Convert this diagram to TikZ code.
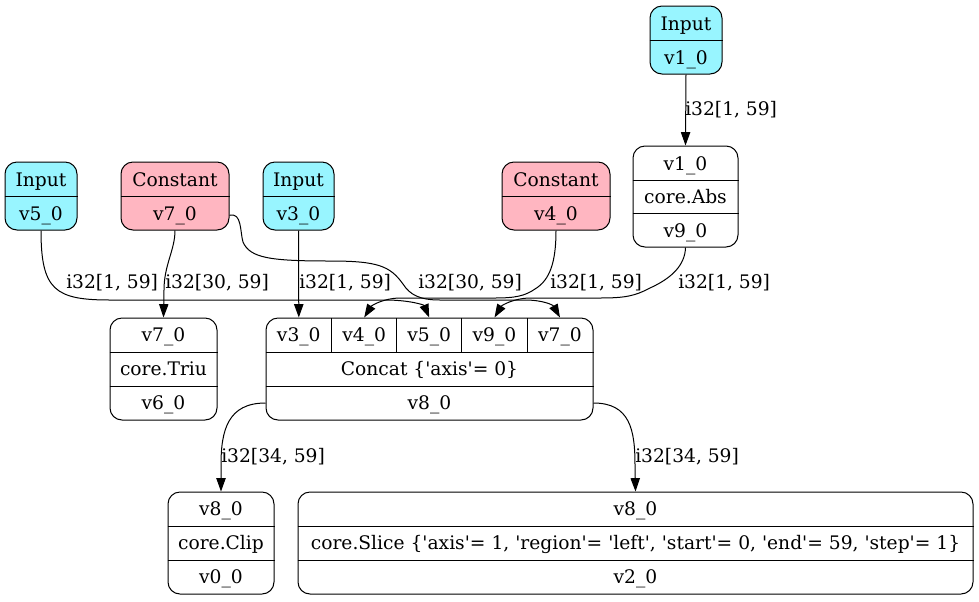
\documentclass[tikz,border=0pt]{standalone}
\usepackage{fontspec}
\setmainfont{DejaVu Serif}
\usetikzlibrary{arrows.meta}
\definecolor{inputcol}{HTML}{98F5FF}
\definecolor{constcol}{HTML}{FFB6C1}
\newcommand{\sq}{\textquotesingle}
\tikzset{
  rec/.style={draw, rounded corners=9pt, line width=0.75pt, inner sep=0pt},
  txt/.style={inner sep=0pt, anchor=base, font=\fontsize{14}{16}\selectfont},
  lbl/.style={inner sep=0pt, anchor=base west, font=\fontsize{14}{16}\selectfont},
  link/.style={line width=0.75pt, -{Triangle[length=10pt,width=7pt]}},
}
\begin{document}
\begin{tikzpicture}[x=0.75pt,y=0.75pt,yscale=-1,xscale=1]
\useasboundingbox (0,0) rectangle (979,601);

% Input v1_0
\node[rec, fill=inputcol, minimum width=54pt, minimum height=51pt] (in1) at (686,40) {};
\draw[line width=0.75pt] (in1.west) -- (in1.east);
\node[txt] (in1a) at (686,30) {Input};
\node[txt] (in1b) at (686,64) {v1\_0};

% Input v5_0
\node[rec, fill=inputcol, minimum width=54pt, minimum height=51pt] (in5) at (41,196) {};
\draw[line width=0.75pt] (in5.west) -- (in5.east);
\node[txt] (in5a) at (41,186) {Input};
\node[txt] (in5b) at (41,220) {v5\_0};

% Constant v7_0
\node[rec, fill=constcol, minimum width=81pt, minimum height=51pt] (c7) at (175,196) {};
\draw[line width=0.75pt] (c7.west) -- (c7.east);
\node[txt] (c7a) at (175,186) {Constant};
\node[txt] (c7b) at (175,220) {v7\_0};

% Input v3_0
\node[rec, fill=inputcol, minimum width=53.25pt, minimum height=51pt] (in3) at (298.5,196) {};
\draw[line width=0.75pt] (in3.west) -- (in3.east);
\node[txt] (in3a) at (298.5,186) {Input};
\node[txt] (in3b) at (298.5,220) {v3\_0};

% Constant v4_0
\node[rec, fill=constcol, minimum width=81pt, minimum height=51pt] (c4) at (556,196) {};
\draw[line width=0.75pt] (c4.west) -- (c4.east);
\node[txt] (c4a) at (556,186) {Constant};
\node[txt] (c4b) at (556,220) {v4\_0};

% core.Abs
\node[rec, minimum width=78.75pt, minimum height=75.75pt] (abs) at (685.5,196.5) {};
\draw[line width=0.75pt] (abs.west |- 0,180) -- (abs.east |- 0,180);
\draw[line width=0.75pt] (abs.west |- 0,213) -- (abs.east |- 0,213);
\node[txt] (absa) at (685.5,170) {v1\_0};
\node[txt] (absb) at (685.5,203) {core.Abs};
\node[txt] (absc) at (685.5,237) {v9\_0};

% core.Triu
\node[rec, minimum width=80.25pt, minimum height=76.5pt] (triu) at (163.5,369) {};
\draw[line width=0.75pt] (triu.west |- 0,352) -- (triu.east |- 0,352);
\draw[line width=0.75pt] (triu.west |- 0,386) -- (triu.east |- 0,386);
\node[txt] (triua) at (163.5,341) {v7\_0};
\node[txt] (triub) at (163.5,375) {core.Triu};
\node[txt] (triuc) at (163.5,409) {v6\_0};

% Concat
\node[rec, minimum width=245.25pt, minimum height=76.5pt] (cat) at (429.5,369) {};
\draw[line width=0.75pt] (cat.west |- 0,352) -- (cat.east |- 0,352);
\draw[line width=0.75pt] (cat.west |- 0,386) -- (cat.east |- 0,386);
\foreach \cx in {331.7,396.7,461.7,527.3}
  \draw[line width=0.75pt] (\cx,318) -- (\cx,352);
\node[txt] (cv3) at (298.8,341) {v3\_0};
\node[txt] (cv4) at (364.2,341) {v4\_0};
\node[txt] (cv5) at (429.2,341) {v5\_0};
\node[txt] (cv9) at (494.5,341) {v9\_0};
\node[txt] (cv7) at (560,341) {v7\_0};
\node[txt] (catb) at (429.5,375) {Concat \{\sq axis\sq= 0\}};
\node[txt] (catc) at (429.5,409) {v8\_0};

% core.Clip
\node[rec, minimum width=79.5pt, minimum height=76.5pt] (clip) at (221,543) {};
\draw[line width=0.75pt] (clip.west |- 0,526) -- (clip.east |- 0,526);
\draw[line width=0.75pt] (clip.west |- 0,560) -- (clip.east |- 0,560);
\node[txt] (clipa) at (221,515) {v8\_0};
\node[txt] (clipb) at (221,549) {core.Clip};
\node[txt] (clipc) at (221,583) {v0\_0};

% core.Slice
\node[rec, minimum width=506.25pt, minimum height=76.5pt] (slice) at (635.5,543) {};
\draw[line width=0.75pt] (slice.west |- 0,526) -- (slice.east |- 0,526);
\draw[line width=0.75pt] (slice.west |- 0,560) -- (slice.east |- 0,560);
\node[txt] (slicea) at (635.5,515) {v8\_0};
\node[txt] (sliceb) at (635.5,549) {core.Slice \{\sq axis\sq= 1, \sq region\sq= \sq left\sq, \sq start\sq= 0, \sq end\sq= 59, \sq step\sq= 1\}};
\node[txt] (slicec) at (635.5,583) {v2\_0};

% edges
\draw[link] (in1.south) -- (abs.north);
\draw[link] (in5.south) .. controls (41,290) and (55,300) .. (110,300) -- (385,300) .. controls (410,300) and (424,305) .. (cv5 |- cat.north);
\draw[link] (c7.south) .. controls (175,250) and (164,265) .. (164,290) -- (triu.north);
\draw[link] (c7.east |- c7b.center) .. controls (242,212) and (240,232) .. (243,242) .. controls (250,258) and (270,261) .. (330,261) .. controls (378,261) and (390,266) .. (403,284) .. controls (410,295) and (420,300) .. (440,300) -- (525,300) .. controls (543,300) and (553,305) .. (cv7 |- cat.north);
\draw[link] (in3.south) -- (cv3 |- cat.north);
\draw[link] (c4.south) .. controls (556,262) and (550,280) .. (535,289) .. controls (525,296) and (515,298) .. (495,298) -- (400,298) .. controls (385,298) and (372,305) .. (cv4 |- cat.north);
\draw[link] (abs.south) .. controls (685,265) and (672,278) .. (650,288) .. controls (635,296) and (625,298) .. (600,298) -- (530,298) .. controls (515,298) and (502,305) .. (cv9 |- cat.north);
\draw[link] (cat.west |- 0,403) .. controls (228,403) and (221,430) .. (221,465) -- (clip.north);
\draw[link] (cat.east |- 0,403) .. controls (630,403) and (635,430) .. (635,465) -- (slice.north);

% edge labels
\node[lbl] (l1) at (685,115) {i32[1, 59]};
\node[lbl] (l2) at (66,288) {i32[1, 59]};
\node[lbl] (l3) at (165,288) {i32[30, 59]};
\node[lbl] (l5) at (299,288) {i32[1, 59]};
\node[lbl] (l4) at (418,288) {i32[30, 59]};
\node[lbl] (l6) at (550,288) {i32[1, 59]};
\node[lbl] (l7) at (678,288) {i32[1, 59]};
\node[lbl] (l8) at (221,462) {i32[34, 59]};
\node[lbl] (l9) at (635,462) {i32[34, 59]};

\end{tikzpicture}
\end{document}
